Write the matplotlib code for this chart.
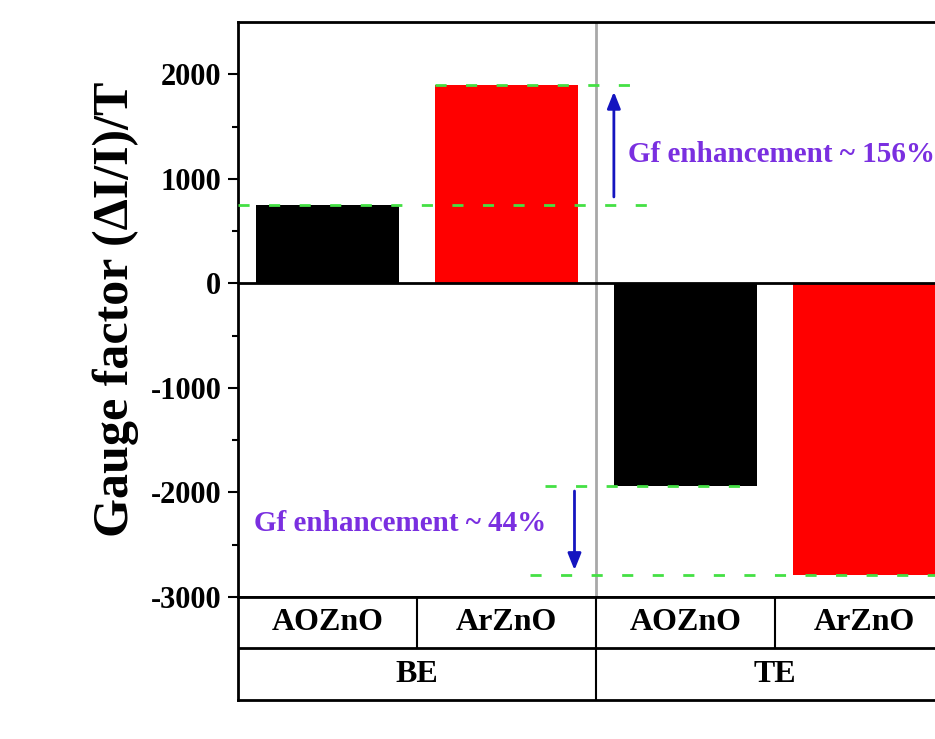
import matplotlib.pyplot as plt

plt.rcParams['font.family'] = ['Liberation Serif', 'DejaVu Serif']
plt.rcParams['font.weight'] = 'bold'
plt.rcParams['axes.unicode_minus'] = False

samples = ['AOZnO', 'ArZnO', 'AOZnO', 'ArZnO']
electrodes = ['BE', 'TE']
gauge = [750, 1900, -1940, -2790]
colors = ['black', 'red', 'black', 'red']

fig = plt.figure(figsize=(9.35, 7.39), dpi=100)
ax = fig.add_axes([0.2545, 0.1922, 0.7658, 0.778])
x = range(len(samples))
ax.bar(x, gauge, width=0.8, color=colors, zorder=2)
ax.set_xlim(-0.5, 3.5)
ax.set_ylim(-3000, 2500)
ax.axhline(0, color='black', lw=2, zorder=3)
ax.axvline(1.5, color='#a8a8a8', lw=2, zorder=1)

ax.set_xticks([])
ax.set_yticks([-3000, -2000, -1000, 0, 1000, 2000])
ax.set_yticks(range(-2500, 2500, 1000), minor=True)
ax.tick_params(axis='y', which='major', length=7, width=1.5, labelsize=22, direction='out', pad=5)
ax.tick_params(axis='y', which='minor', length=4, width=1.5, direction='out')
for s in ax.spines.values():
    s.set_linewidth(2)
ax.set_ylabel('Gauge factor (ΔI/I)/T', fontsize=36, fontweight='bold', labelpad=8)

# dashed guide lines
green = '#44e044'
dash = dict(color=green, lw=2, ls=(0, (4, 7)), zorder=4)
ax.plot([-0.5, 1.83], [gauge[0], gauge[0]], **dash)
ax.plot([0.6, 1.75], [gauge[1], gauge[1]], **dash)
ax.plot([1.215, 2.4], [gauge[2], gauge[2]], **dash)
ax.plot([1.13, 3.5], [gauge[3], gauge[3]], **dash)

arrow = dict(arrowstyle='-|>,head_width=0.4,head_length=1.0', color='#1515c0', lw=2)
ax.annotate('', xy=(1.6, 1860), xytext=(1.6, 800), arrowprops=arrow)
ax.annotate('', xy=(1.38, -2770), xytext=(1.38, -1960), arrowprops=arrow)
ax.text(1.68, 1230, 'Gf enhancement ~ 156%', color='#7a2fe0', fontsize=21,
        fontweight='bold', va='center', ha='left', clip_on=False)
ax.text(-0.41, -2300, 'Gf enhancement ~ 44%', color='#7a2fe0', fontsize=21,
        fontweight='bold', va='center', ha='left')

# category table under the axes
tb = fig.add_axes([0.2545, 0.0528, 0.7658, 0.1394])
tb.set_xlim(-0.5, 3.5)
tb.set_ylim(0, 2)
tb.set_xticks([])
tb.set_yticks([])
for s in tb.spines.values():
    s.set_linewidth(2)
tb.axhline(1, color='black', lw=2)
for xv in [0.5, 1.5, 2.5]:
    ymin = 0 if xv == 1.5 else 0.5
    tb.axvline(xv, ymin=ymin, ymax=1, color='black', lw=1.5)
for i, name in enumerate(samples):
    tb.text(i, 1.5, name, ha='center', va='center', fontsize=23, fontweight='bold')
for i, name in enumerate(electrodes):
    tb.text(0.5 + 2 * i, 0.5, name, ha='center', va='center', fontsize=23, fontweight='bold')

fig.savefig('out.png', dpi=100)
